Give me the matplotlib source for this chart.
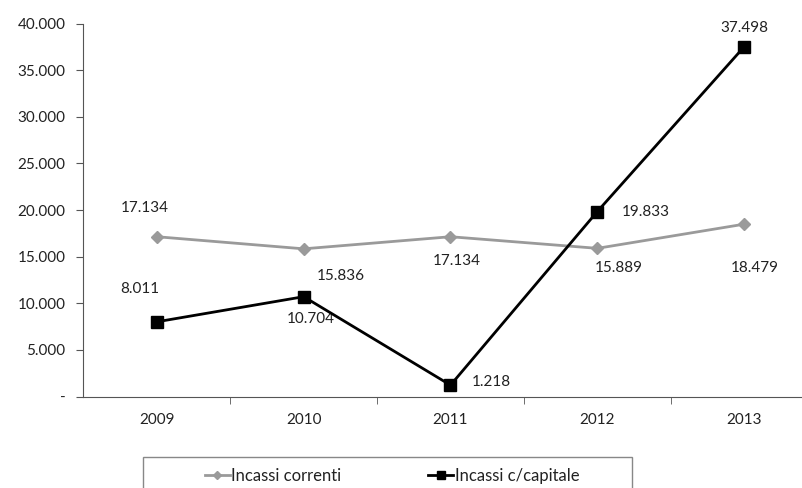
import matplotlib.pyplot as plt
from matplotlib.ticker import FuncFormatter
from matplotlib.patches import Rectangle

# Data
years = ["2009", "2010", "2011", "2012", "2013"]
correnti = [17134, 15836, 17134, 15889, 18479]
capitale = [8011, 10704, 1218, 19833, 37498]
y_ticks = [0, 5000, 10000, 15000, 20000, 25000, 30000, 35000, 40000]

# label offsets in pixels (dx, dy) from each point
off_correnti = [(-12, 29), (37, -27), (6, -24), (21, -20), (11, -44)]
off_capitale = [(-17, 33), (7, -22), (41, 3), (48, 0), (0, 19)]

plt.rcParams['font.family'] = ['Lato', 'DejaVu Sans']

W, H = 803, 488
fig = plt.figure(figsize=(W / 100, H / 100), dpi=100)
left, right, top, bottom = 83.5, 817.5, 23.5, 396.5
ax = fig.add_axes([left / W, 1 - bottom / H, (right - left) / W, (bottom - top) / H])

x = range(len(years))
ax.plot(x, correnti, color='#9a9a9a', lw=2, marker='D', ms=6,
        mfc='#9a9a9a', mec='#9a9a9a', label='Incassi correnti', zorder=3)
ax.plot(x, capitale, color='black', lw=2, marker='s', ms=9,
        label='Incassi c/capitale', zorder=4)

for i, v in enumerate(correnti):
    ax.annotate(f"{v/1000:.3f}", (i, v), xytext=off_correnti[i],
                textcoords='offset pixels', ha='center', va='center',
                fontsize=11, color='#222222')
for i, v in enumerate(capitale):
    ax.annotate(f"{v/1000:.3f}", (i, v), xytext=off_capitale[i],
                textcoords='offset pixels', ha='center', va='center',
                fontsize=11, color='#222222')

ax.set_xlim(-0.5, len(years) - 0.5)
ax.set_ylim(0, 40000)
ax.set_yticks(y_ticks)
ax.yaxis.set_major_formatter(FuncFormatter(lambda v, p: "-" if v == 0 else f"{v/1000:.3f}"))
ax.set_xticks(list(x))
ax.set_xticklabels(years)
ax.set_xticks([i + 0.5 for i in range(len(years) - 1)], minor=True)
ax.tick_params(axis='x', which='major', length=0, pad=12, labelsize=11, labelcolor='#222222')
ax.tick_params(axis='x', which='minor', length=5, direction='out', color='#555555')
ax.tick_params(axis='y', length=5, direction='out', color='#555555', labelsize=11,
               labelcolor='#222222', pad=8)

for s in ['top', 'right']:
    ax.spines[s].set_visible(False)
ax.spines['left'].set_color('#555555')
ax.spines['bottom'].set_color('#555555')

# legend frame (box runs off the bottom of the image)
bx0, bx1, by_top = 143, 632, 457
fig.patches.append(Rectangle((bx0 / W, -0.05), (bx1 - bx0) / W, 1 - by_top / H + 0.05,
                             transform=fig.transFigure, fill=False,
                             edgecolor='#888888', lw=1))
leg = fig.legend(loc='center', bbox_to_anchor=(392 / W, 1 - 476 / H),
                 ncol=2, frameon=False, fontsize=12, handlelength=1.5,
                 handletextpad=0.1, columnspacing=5.2, markerscale=0.7)
for t in leg.get_texts():
    t.set_color('#222222')

fig.savefig("out.png", dpi=100)
